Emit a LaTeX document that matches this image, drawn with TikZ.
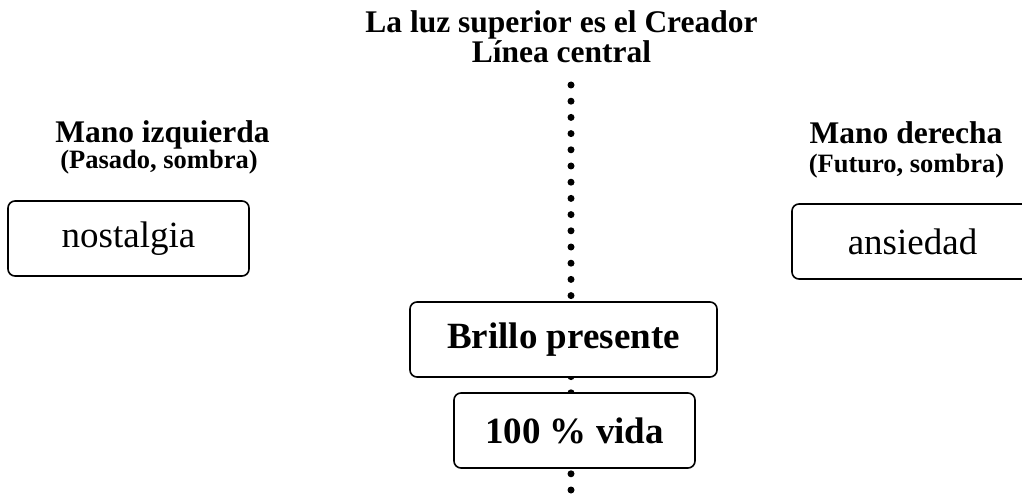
\documentclass[tikz,border=0pt]{standalone}
\usepackage{fontspec}
\setmainfont{Liberation Serif}
\begin{document}
\begin{tikzpicture}[x=1pt,y=-1pt,
  box/.style={draw, line width=1.6pt, rounded corners=7pt, fill=white, inner sep=0pt,
    minimum height=75pt, minimum width=241pt, font=\fontsize{37}{40}\selectfont},
  boldbox/.style={box, font=\fontsize{37}{40}\selectfont\bfseries},
  heading/.style={anchor=base, inner sep=0pt, font=\fontsize{31.5}{30}\selectfont\bfseries},
  subheading/.style={anchor=base, inner sep=0pt, font=\fontsize{26.5}{28}\selectfont\bfseries},
  dotline/.style={line width=7pt, line cap=round, dash pattern=on 0pt off 16.2pt}]
\useasboundingbox (0,0) rectangle (1022,497);
% titles
\node[heading] (title) at (561.5,33) {La luz superior es el Creador};
\node[heading] (central) at (561.5,63) {Línea central};
% central dotted line
\coordinate (ltop) at (571,85);
\coordinate (lbot) at (571,490);
\draw[dotline] (ltop) -- (lbot);
% left
\node[heading] (left) at (162.5,143) {Mano izquierda};
\node[subheading] (leftsub) at (159,169) {(Pasado, sombra)};
\node[box] (nost) at (128.5,238.5) {nostalgia};
% right
\node[heading] (right) at (906,144) {Mano derecha};
\node[subheading] (rightsub) at (906.5,173) {(Futuro, sombra)};
\node[box] (ans) at (912.5,241.5) {ansiedad};
% center boxes
\node[boldbox, minimum width=307pt] (brillo) at (563.5,339.5) {Brillo presente};
\node[boldbox] (vida) at (574.5,430.5) {100 \% vida};
\end{tikzpicture}
\end{document}
